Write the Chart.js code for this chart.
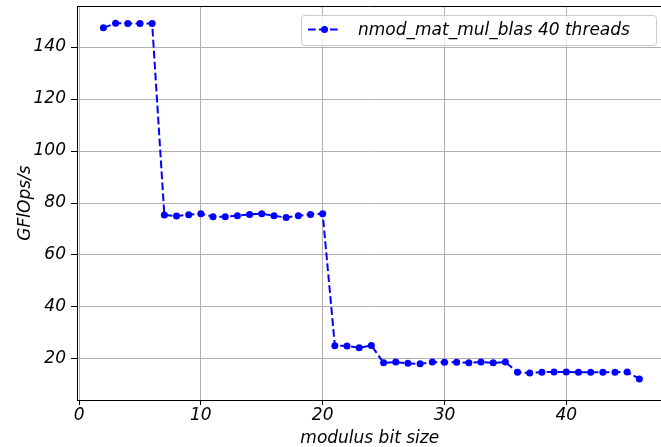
<!DOCTYPE html>
<html>
<head>
<meta charset="utf-8">
<script src="https://cdn.jsdelivr.net/npm/chart.js@4.4.1/dist/chart.umd.min.js"></script>
<style>
  html, body { margin: 0; padding: 0; background: #fff; overflow: hidden; }
  #chart { display: block; }
</style>
</head>
<body>
<canvas id="chart" width="666" height="447"></canvas>
<script>
// modulus bit sizes and measured throughput
var bitSizes = [2, 3, 4, 5, 6, 7, 8, 9, 10, 11, 12, 13, 14, 15, 16, 17, 18, 19, 20,
    21, 22, 23, 24, 25, 26, 27, 28, 29, 30, 31, 32, 33, 34, 35, 36, 37, 38, 39, 40,
    41, 42, 43, 44, 45, 46];
var gflops = [147.4, 149.2, 149.1, 149.1, 149.1,
    75.4, 75.0, 75.5, 75.9, 74.7, 74.7, 75.1, 75.6, 75.9, 75.1, 74.4, 75.1, 75.6, 75.9,
    25.1, 25.0, 24.3, 25.2,
    18.5, 18.8, 18.3, 18.1, 18.8, 18.7, 18.7, 18.5, 18.8, 18.5, 18.8,
    14.9, 14.6, 14.9, 15.0, 15.0, 14.9, 14.9, 14.9, 14.9, 15.0, 12.3];
var seriesLabel = "nmod_mat_mul_blas 40 threads";
var xTicks = [0, 10, 20, 30, 40];
var yTicks = [20, 40, 60, 80, 100, 120, 140];

var FONT = "'DejaVu Sans', sans-serif";
var BLUE = "#0000ff";

// top side of the axes box (right side is cut off in the original) + legend
var frameAndLegend = {
    id: "frameAndLegend",
    afterDraw: function (chart) {
        var c = chart.ctx, a = chart.chartArea;
        c.save();
        c.strokeStyle = "#000";
        c.lineWidth = 1;
        c.beginPath();
        c.moveTo(a.left, a.top + 0.5);
        c.lineTo(a.right, a.top + 0.5);
        c.stroke();

        // legend box
        var bx = 301.5, by = 15.5, bw = 355, bh = 30;
        c.beginPath();
        c.roundRect(bx, by, bw, bh, 3);
        c.fillStyle = "rgba(255,255,255,0.8)";
        c.fill();
        c.strokeStyle = "#cccccc";
        c.stroke();

        var ly = 29.5;
        c.strokeStyle = BLUE;
        c.lineWidth = 2;
        c.setLineDash([7.7, 3.3]);
        c.beginPath();
        c.moveTo(308, ly);
        c.lineTo(341, ly);
        c.stroke();
        c.setLineDash([]);
        c.fillStyle = BLUE;
        c.beginPath();
        c.arc(324.5, ly, 3.5, 0, Math.PI * 2);
        c.fill();

        c.fillStyle = "#000";
        c.font = "italic 17px " + FONT;
        c.textBaseline = "middle";
        c.fillText(seriesLabel, 358, ly + 1);
        c.restore();
    }
};

function noPad(s) {
    s.paddingTop = 0;
    s.paddingBottom = 0;
    s.paddingLeft = 0;
    s.paddingRight = 0;
}

var ctx = document.getElementById("chart").getContext("2d");

new Chart(ctx, {
    type: "line",
    data: {
        datasets: [{
            label: seriesLabel,
            data: bitSizes.map(function (b, i) { return { x: b, y: gflops[i] }; }),
            borderColor: BLUE,
            backgroundColor: BLUE,
            borderWidth: 2,
            borderDash: [7.7, 3.3],
            pointRadius: 3.5,
            pointHoverRadius: 3.5,
            pointBorderWidth: 0,
            tension: 0
        }]
    },
    options: {
        responsive: false,
        animation: false,
        layout: { padding: { top: 6, right: 0, left: 0, bottom: 0 } },
        plugins: {
            legend: { display: false },
            tooltip: { enabled: false }
        },
        scales: {
            x: {
                type: "linear",
                min: -0.17,
                max: 47.9,
                afterBuildTicks: function (s) { s.ticks = xTicks.map(function (v) { return { value: v }; }); },
                afterFit: function (s) { s.height = 47; noPad(s); },
                border: { color: "#000", width: 1 },
                grid: { color: "#b0b0b0", lineWidth: 1, tickColor: "#000", tickLength: 5 },
                ticks: {
                    color: "#000",
                    padding: 0,
                    maxRotation: 0,
                    font: { size: 17, family: FONT, style: "italic" }
                },
                title: {
                    display: true,
                    text: "modulus bit size",
                    color: "#000",
                    padding: { top: 0, bottom: 0 },
                    font: { size: 17, family: FONT, style: "italic", lineHeight: 1 }
                }
            },
            y: {
                min: 4.2,
                max: 155.8,
                afterBuildTicks: function (s) { s.ticks = yTicks.map(function (v) { return { value: v }; }); },
                afterFit: function (s) { s.width = 77; noPad(s); },
                border: { color: "#000", width: 1 },
                grid: { color: "#b0b0b0", lineWidth: 1, tickColor: "#000", tickLength: 6 },
                ticks: {
                    color: "#000",
                    padding: 5,
                    font: { size: 17, family: FONT, style: "italic" }
                },
                title: {
                    display: true,
                    text: "GFlOps/s",
                    color: "#000",
                    padding: { top: 15, bottom: 0 },
                    font: { size: 17, family: FONT, style: "italic", lineHeight: 1.2 }
                }
            }
        }
    },
    plugins: [frameAndLegend]
});
</script>
</body>
</html>
